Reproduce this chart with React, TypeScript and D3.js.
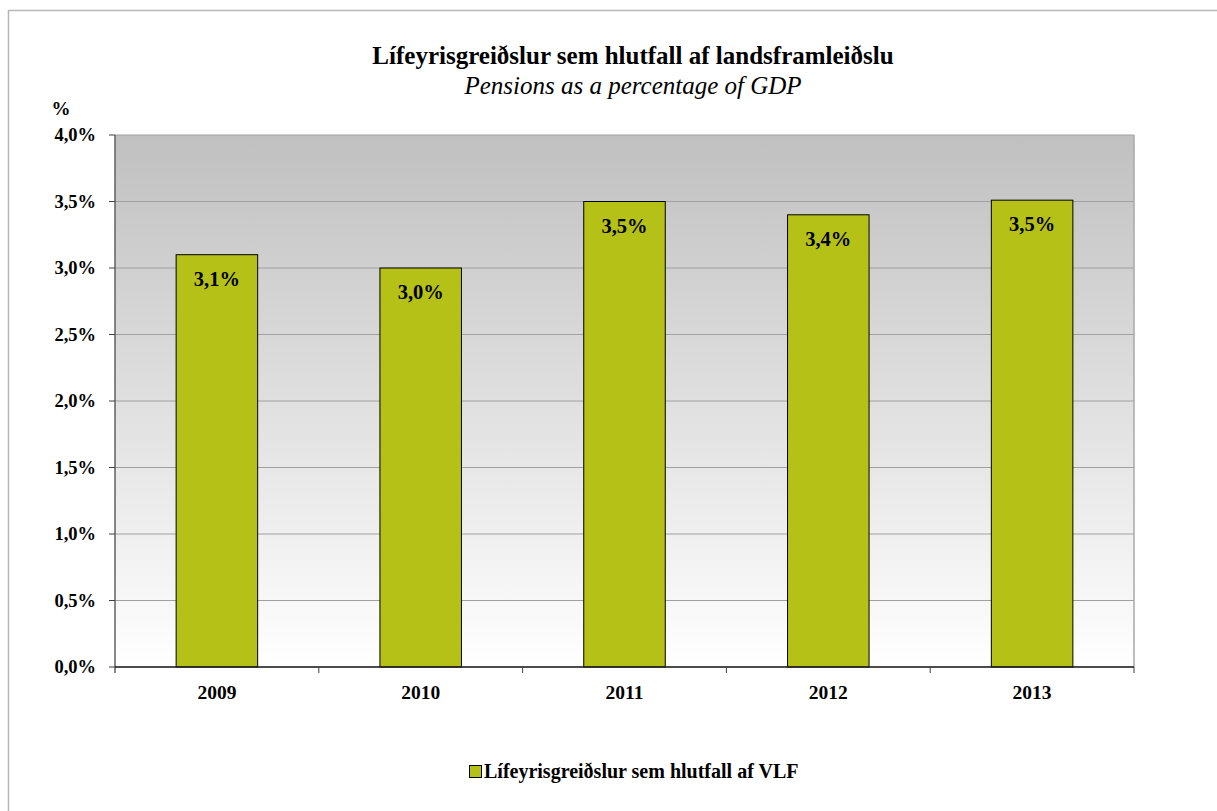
import React from "react";
import * as d3 from "d3";

const categories = ["2009", "2010", "2011", "2012", "2013"];
const values = [3.1, 3.0, 3.5, 3.4, 3.51];
const valueLabels = ["3,1%", "3,0%", "3,5%", "3,4%", "3,5%"];
const yTicks = [0, 0.5, 1.0, 1.5, 2.0, 2.5, 3.0, 3.5, 4.0];
const title = "Lífeyrisgreiðslur sem hlutfall af landsframleiðslu";
const subtitle = "Pensions as a percentage of GDP";
const legendLabel = "Lífeyrisgreiðslur sem hlutfall af VLF";

export default function App() {
  const W = 1217, H = 811;
  const left = 115, right = 1134, top = 135, bottom = 667;
  const font = "'Liberation Serif', 'Times New Roman', serif";
  const x = d3.scaleBand<string>().domain(categories).range([left, right]).paddingInner(0).paddingOuter(0);
  const y = d3.scaleLinear().domain([0, 4]).range([bottom, top]);
  const bw = x.bandwidth() * 0.4;
  const fmt = (v: number) => v.toFixed(1).replace(".", ",") + "%";
  return (
    <svg width={W} height={H} style={{ position: "absolute", left: 0, top: 0 }}>
      <defs>
        <linearGradient id="bg" x1="0" y1="0" x2="0" y2="1">
          <stop offset="0" stopColor="#c0c0c0" />
          <stop offset="1" stopColor="#ffffff" />
        </linearGradient>
      </defs>
      <rect x={0} y={0} width={W} height={H} fill="#fff" />
      <rect x={8.5} y={10.5} width={W} height={H} fill="#fff" stroke="#b8b8b8" strokeWidth={1.5} />
      <text x={633} y={64} textAnchor="middle" fontFamily={font} fontWeight="bold" fontSize={25}>{title}</text>
      <text x={633} y={94} textAnchor="middle" fontFamily={font} fontStyle="italic" fontSize={25}>{subtitle}</text>
      <rect x={left} y={top} width={right - left} height={bottom - top} fill="url(#bg)" />
      {yTicks.map((t) => (
        <line key={"g" + t} x1={left} x2={right} y1={y(t)} y2={y(t)} stroke="#a0a0a0" strokeWidth={1} />
      ))}
      <line x1={right} x2={right} y1={top} y2={bottom} stroke="#a8a8a8" strokeWidth={1.5} />
      {categories.map((c, i) => (
        <rect key={c} x={x(c)! + (x.bandwidth() - bw) / 2} y={y(values[i])} width={bw} height={y(0) - y(values[i])}
          fill="#b5c116" stroke="#000" strokeWidth={1} />
      ))}
      {categories.map((c, i) => (
        <text key={"l" + c} x={x(c)! + x.bandwidth() / 2} y={y(values[i]) + 31} textAnchor="middle"
          fontFamily={font} fontWeight="bold" fontSize={20.5}>{valueLabels[i]}</text>
      ))}
      <line x1={left} x2={left} y1={top} y2={bottom + 6} stroke="#606060" strokeWidth={1.5} />
      {yTicks.map((t) => (
        <g key={"t" + t}>
          <line x1={left - 6} x2={left} y1={y(t)} y2={y(t)} stroke="#404040" strokeWidth={1} />
          <text x={96} y={y(t) + 6} textAnchor="end" fontFamily={font} fontWeight="bold" fontSize={18.5}>{fmt(t)}</text>
        </g>
      ))}
      <text x={61} y={115} textAnchor="middle" fontFamily={font} fontWeight="bold" fontSize={19}>%</text>
      <line x1={left} x2={right} y1={bottom} y2={bottom} stroke="#202020" strokeWidth={1.5} />
      {categories.map((c) => (
        <line key={"xt" + c} x1={x(c)! + x.bandwidth()} x2={x(c)! + x.bandwidth()} y1={bottom} y2={bottom + 6} stroke="#404040" strokeWidth={1} />
      ))}
      {categories.map((c) => (
        <text key={"x" + c} x={x(c)! + x.bandwidth() / 2} y={699} textAnchor="middle" fontFamily={font} fontWeight="bold" fontSize={19.5}>{c}</text>
      ))}
      <rect x={469.5} y={765.5} width={12} height={12} fill="#b5c116" stroke="#000" strokeWidth={1} />
      <text x={484} y={778} fontFamily={font} fontWeight="bold" fontSize={20}>{legendLabel}</text>
    </svg>
  );
}
